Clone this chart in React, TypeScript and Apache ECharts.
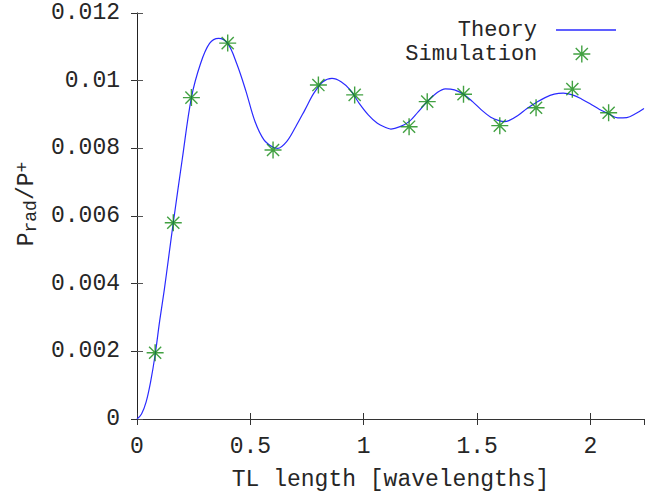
import React, { useEffect, useRef } from "react";
import * as echarts from "echarts";

const theoryX = [0, 0.02, 0.04, 0.06, 0.08, 0.1, 0.12, 0.14, 0.16, 0.2, 0.24, 0.28, 0.32, 0.36, 0.4, 0.44, 0.48, 0.52, 0.56, 0.6, 0.62, 0.66, 0.7, 0.74, 0.78, 0.82, 0.86, 0.9, 0.94, 0.98, 1.02, 1.06, 1.1, 1.12, 1.16, 1.2, 1.24, 1.28, 1.32, 1.36, 1.4, 1.44, 1.48, 1.52, 1.56, 1.6, 1.62, 1.64, 1.68, 1.72, 1.76, 1.8, 1.84, 1.88, 1.92, 1.96, 2.0, 2.04, 2.08, 2.12, 2.16, 2.2, 2.236];
const theoryY = [0, 0.00015, 0.0005, 0.0011, 0.0019, 0.0029, 0.0038, 0.0048, 0.0058, 0.0077, 0.0095, 0.0105, 0.0111, 0.01125, 0.0111, 0.0105, 0.0097, 0.0088, 0.00825, 0.00803, 0.008, 0.0082, 0.00864, 0.00913, 0.00963, 0.00997, 0.01007, 0.00997, 0.00973, 0.00933, 0.00899, 0.00874, 0.00861, 0.00857, 0.00864, 0.00879, 0.00908, 0.00938, 0.00963, 0.00976, 0.00973, 0.0096, 0.00938, 0.00913, 0.00892, 0.00881, 0.00879, 0.00882, 0.00897, 0.00918, 0.00935, 0.0095, 0.0096, 0.00963, 0.00958, 0.00946, 0.00931, 0.00915, 0.00902, 0.0089, 0.00891, 0.00903, 0.00918];

const simX = [0.08, 0.16, 0.24, 0.4, 0.6, 0.8, 0.96, 1.2, 1.28, 1.44, 1.6, 1.76, 1.92, 2.08];
const simY = [0.00196, 0.0058, 0.0095, 0.01111, 0.00795, 0.00987, 0.00958, 0.00864, 0.00938, 0.0096, 0.00867, 0.0092, 0.00975, 0.00905];

const xTicks = [0, 0.5, 1, 1.5, 2];
const yTicks = [0, 0.002, 0.004, 0.006, 0.008, 0.01, 0.012];

const FONT = '"Courier New", "Liberation Mono", monospace';
const STAR = "path://M0,8 L16,8 M8,0 L8,16 M2.3,2.3 L13.7,13.7 M2.3,13.7 L13.7,2.3";
const GREEN = "#138a13";
const BLUE = "#2a2aff";
const TEXT = "#262626";

export default function App() {
  const ref = useRef<HTMLDivElement>(null);
  useEffect(() => {
    if (!ref.current) return;
    const chart = echarts.init(ref.current, null, { renderer: "svg" });
    const xMin = xTicks[0];
    const xMax = 2.236;
    const yMin = yTicks[0];
    const yMax = yTicks[yTicks.length - 1];
    const fmtY = (v: number) => (v === 0 ? "0" : String(parseFloat(v.toFixed(4))));
    const fmtX = (v: number) => String(parseFloat(v.toFixed(2)));
    const tickCommon = { inside: true, length: 6, lineStyle: { color: "#333", width: 1 } };
    chart.setOption({
      animation: false,
      backgroundColor: "#ffffff",
      grid: { left: 137, right: 11, top: 13, bottom: 74, containLabel: false, outerBoundsMode: "none" },
      legend: [
        {
          data: [{ name: "Theory", icon: "rect" }],
          align: "right",
          right: 39,
          top: 19,
          padding: 0,
          itemWidth: 60,
          itemHeight: 1.4,
          itemStyle: { color: BLUE, borderWidth: 0 },
          textStyle: { fontFamily: FONT, fontSize: 22, lineHeight: 22, color: TEXT, padding: [0, 14, 0, 0] },
        },
        {
          data: [{ name: "Simulation" }],
          align: "right",
          right: 64,
          top: 43,
          padding: 0,
          itemWidth: 17,
          itemHeight: 17,
          itemStyle: { color: "rgba(0,0,0,0)", borderColor: GREEN, borderWidth: 1.4 },
          textStyle: { fontFamily: FONT, fontSize: 22, lineHeight: 22, color: TEXT, padding: [0, 31, 0, 0] },
        },
      ],
      xAxis: [
        {
          type: "value",
          min: xMin,
          max: xMax,
          interval: 0.5,
          position: "bottom",
          splitLine: { show: false },
          axisLine: { lineStyle: { color: "#222", width: 1 } },
          axisTick: tickCommon,
          axisLabel: { fontFamily: FONT, fontSize: 23, color: TEXT, margin: 16, formatter: fmtX, showMaxLabel: false },
          name: "TL length [wavelengths]",
          nameLocation: "middle",
          nameGap: 49,
          nameTextStyle: { fontFamily: FONT, fontSize: 23, color: TEXT },
        },
        {
          type: "value",
          min: xMin,
          max: xMax,
          interval: 0.5,
          position: "top",
          splitLine: { show: false },
          axisLine: { lineStyle: { color: "#333", width: 1 } },
          axisTick: tickCommon,
          axisLabel: { show: false },
        },
      ],
      yAxis: [
        {
          type: "value",
          min: yMin,
          max: yMax,
          interval: 0.002,
          position: "left",
          splitLine: { show: false },
          axisLine: { lineStyle: { color: "#888", width: 1 } },
          axisTick: { inside: true, length: 6, lineStyle: { color: "#555", width: 1 } },
          axisLabel: { fontFamily: FONT, fontSize: 23, color: TEXT, margin: 17, formatter: fmtY },
          name: "{a|P}{b|rad}{a|/P}{c|+}",
          nameLocation: "middle",
          nameGap: 96,
          nameTextStyle: {
            fontFamily: FONT,
            color: TEXT,
            padding: [0, 0, 0, 24],
            rich: {
              a: { fontFamily: FONT, fontSize: 23, color: TEXT, lineHeight: 26, verticalAlign: "middle" },
              b: { fontFamily: FONT, fontSize: 18, color: TEXT, lineHeight: 12, verticalAlign: "bottom" },
              c: { fontFamily: FONT, fontSize: 18, color: TEXT, lineHeight: 12, verticalAlign: "top" },
            },
          },
        },
        {
          type: "value",
          min: yMin,
          max: yMax,
          interval: 0.002,
          position: "right",
          splitLine: { show: false },
          axisLine: { lineStyle: { color: "#222", width: 1 } },
          axisTick: tickCommon,
          axisLabel: { show: false },
        },
      ],
      series: [
        {
          name: "Theory",
          type: "line",
          xAxisIndex: 0,
          yAxisIndex: 0,
          data: theoryX.map((x, i) => [x, theoryY[i]]),
          smooth: 0.35,
          symbol: "none",
          lineStyle: { color: BLUE, width: 1.2 },
          itemStyle: { color: BLUE },
          z: 2,
        },
        {
          name: "Simulation",
          type: "scatter",
          xAxisIndex: 0,
          yAxisIndex: 0,
          data: simX.map((x, i) => [x, simY[i]]),
          symbol: STAR,
          symbolSize: 17,
          itemStyle: { color: "rgba(0,0,0,0)", borderColor: GREEN, borderWidth: 1.4 },
          z: 3,
        },
      ],
    });
    return () => chart.dispose();
  }, []);
  return (
    <div
      ref={ref}
      style={{ position: "fixed", left: 0, top: 0, width: 655, height: 493, background: "#fff" }}
    />
  );
}
